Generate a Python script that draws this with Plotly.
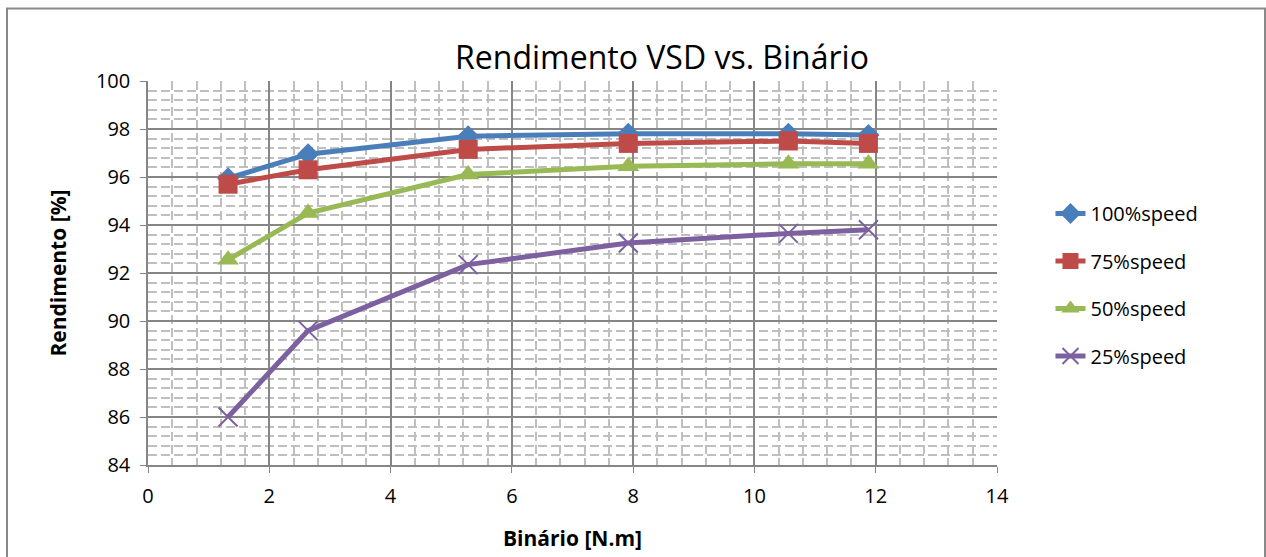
import plotly.graph_objects as go

# Data
binario = [1.32, 2.64, 5.28, 7.92, 10.56, 11.88]
speed100 = [95.95, 96.95, 97.7, 97.8, 97.8, 97.75]
speed75 = [95.7, 96.3, 97.15, 97.4, 97.5, 97.4]
speed50 = [92.55, 94.5, 96.1, 96.45, 96.55, 96.55]
speed25 = [86.0, 89.6, 92.35, 93.25, 93.65, 93.8]
series_names = ["100%speed", "75%speed", "50%speed", "25%speed"]

colors = ["#4A7EBB", "#BE4B48", "#98B954", "#7D60A0"]
symbols = ["diamond", "square", "triangle-up", "x-thin"]
sizes = [17, 19, 19, 19]

fig = go.Figure()
for i, (name, ys, c, sym, sz) in enumerate(zip(series_names,
                                               [speed100, speed75, speed50, speed25],
                                               colors, symbols, sizes)):
    marker = dict(symbol=sym, size=sz, color=c)
    if sym == "x-thin":
        marker["line"] = dict(color=c, width=2)
    else:
        marker["line"] = dict(width=0)
    fig.add_trace(go.Scatter(x=binario, y=ys, name=name, mode="lines+markers",
                             legendgroup=f"g{i}",
                             line=dict(color=c, width=5), marker=marker))

font_family = "Open Sans, Liberation Sans, sans-serif"

fig.update_layout(
    width=1266, height=557,
    margin=dict(l=148, r=269, t=81, b=92),
    paper_bgcolor="white", plot_bgcolor="white",
    font=dict(family=font_family, size=19, color="black"),
    title=dict(text="Rendimento VSD vs. Binário", x=(662 - 148) / 849, xanchor="center",
               xref="paper", y=1 - 58 / 557, yanchor="middle",
               font=dict(size=32, family=font_family, color="black")),
    showlegend=True,
    legend=dict(x=1.063, xanchor="left", y=(465 - 194) / 384, yanchor="top",
                font=dict(size=20), tracegroupgap=18.5, traceorder="grouped",
                bgcolor="rgba(0,0,0,0)"),
)

fig.update_xaxes(
    range=[0, 14], dtick=2, tick0=0,
    showline=True, linecolor="#868686", linewidth=1.5,
    ticks="outside", ticklen=6, tickcolor="#868686",
    showgrid=True, gridcolor="#868686", gridwidth=1.5,
    minor=dict(dtick=0.4, showgrid=True, gridcolor="#BFBFBF", gridwidth=1.5,
               griddash="9px,4px"),
    zeroline=False, automargin=False,
    ticklabelstandoff=6,
    title=dict(text="<b>Binário [N.m]</b>", font=dict(size=21), standoff=24),
    tickfont=dict(size=20),
)
fig.update_yaxes(
    range=[84, 100], dtick=2, tick0=84,
    showline=True, linecolor="#868686", linewidth=1.5,
    ticks="outside", ticklen=6, tickcolor="#868686",
    showgrid=True, gridcolor="#868686", gridwidth=1.5,
    minor=dict(dtick=0.4, showgrid=True, gridcolor="#BFBFBF", gridwidth=1.5,
               griddash="9px,4px"),
    zeroline=False, automargin=False,
    ticklabelstandoff=6,
    title=dict(text="<b>Rendimento [%]</b>", font=dict(size=21), standoff=24),
    tickfont=dict(size=20),
)

# chart border (Excel-like frame)
fig.add_shape(type="rect", xref="paper", yref="paper",
              x0=(7 - 148) / 849, x1=(1265 - 148) / 849,
              y0=(465 - 600) / 384, y1=(465 - 8.5) / 384,
              line=dict(color="#898989", width=2), fillcolor="rgba(0,0,0,0)",
              layer="below")

fig.write_html("out.html")
